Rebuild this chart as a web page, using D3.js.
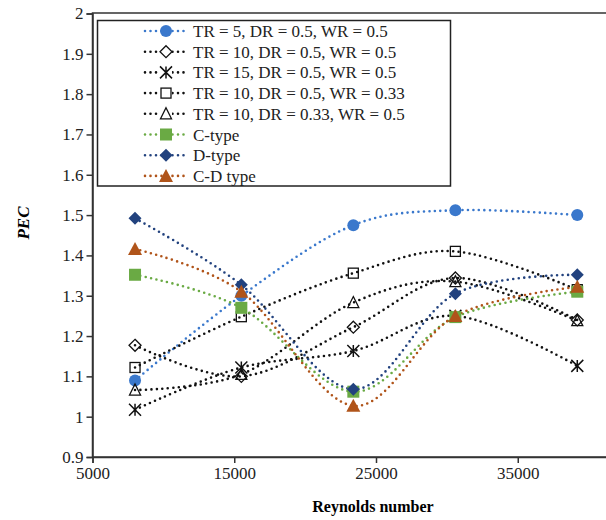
<!DOCTYPE html>
<html><head><meta charset="utf-8">
<script src="https://cdn.jsdelivr.net/npm/d3@7"></script>
<style>body{margin:0;background:#fff;}svg{display:block;}</style>
</head><body>
<svg id="c" width="606" height="520"></svg>
<script>
const reynolds = [8000, 15500, 23400, 30600, 39200];
const seriesNames = ["TR = 5, DR = 0.5, WR = 0.5","TR = 10, DR = 0.5, WR = 0.5","TR = 15, DR = 0.5, WR = 0.5","TR = 10, DR = 0.5, WR = 0.33","TR = 10, DR = 0.33, WR = 0.5","C-type","D-type","C-D type"];
const tr5 = [1.09, 1.30, 1.475, 1.512, 1.50];
const tr10 = [1.177, 1.10, 1.222, 1.344, 1.24];
const tr15 = [1.017, 1.122, 1.163, 1.25, 1.126];
const wr033 = [1.122, 1.248, 1.356, 1.41, 1.315];
const dr033 = [1.066, 1.105, 1.283, 1.335, 1.238];
const cType = [1.352, 1.27, 1.062, 1.247, 1.31];
const dType = [1.492, 1.327, 1.068, 1.305, 1.352];
const cdType = [1.416, 1.31, 1.027, 1.25, 1.322];
const xTicks = [5000, 15000, 25000, 35000];
const yTicks = [0.9, 1, 1.1, 1.2, 1.3, 1.4, 1.5, 1.6, 1.7, 1.8, 1.9, 2];
const yTickLabels = ["0.9","1","1.1","1.2","1.3","1.4","1.5","1.6","1.7","1.8","1.9","2"];

const colors = ["#3a78cc","#111","#111","#111","#111","#6aaa44","#22427e","#b0541a"];
const markers = ["circle","diamondOpen","asterisk","squareOpen","triangleOpen","square","diamond","triangle"];
const allValues = [tr5, tr10, tr15, wr033, dr033, cType, dType, cdType];

const svg = d3.select("#c");
const font = "'Liberation Serif','Times New Roman',serif";
const x = d3.scaleLinear().domain([5000, 45000]).range([92.5, 659.5]);
const y = d3.scaleLinear().domain([0.9, 2]).range([457, 13.5]);

// plot frame
svg.append("rect").attr("x", 92.5).attr("y", 13).attr("width", 600).attr("height", 444)
  .attr("fill", "none").attr("stroke", "#333").attr("stroke-width", 1.5);

// axes
const yAxis = d3.axisLeft(y).tickValues(yTicks).tickSize(6).tickFormat((d,i)=>yTickLabels[i]);
const gy = svg.append("g").attr("transform","translate(92.5,0)").call(yAxis);
const xAxis = d3.axisBottom(x).tickValues(xTicks).tickSize(6).tickFormat(d3.format("d"));
const gx = svg.append("g").attr("transform","translate(0,457)").call(xAxis);
[gx, gy].forEach(g=>{
  g.select(".domain").attr("stroke","#333").attr("stroke-width",1.5);
  g.selectAll(".tick line").attr("stroke","#333").attr("stroke-width",1.5);
  g.selectAll(".tick text").attr("font-family",font).attr("font-size",17).attr("fill","#222");
});
gy.selectAll(".tick text").attr("x",-9);
gx.selectAll(".tick text").attr("y",10);

// axis titles
svg.append("text").attr("x",373).attr("y",512).attr("text-anchor","middle")
  .attr("font-family",font).attr("font-size",16).attr("font-weight","bold").text("Reynolds number");
svg.append("text").attr("transform","translate(29,223) rotate(-90)").attr("text-anchor","middle")
  .attr("font-family",font).attr("font-size",17).attr("font-weight","bold").attr("font-style","italic").text("PEC");

function drawMarker(g, type, color, cx, cy) {
  if (type==="circle") g.append("circle").attr("cx",cx).attr("cy",cy).attr("r",6).attr("fill",color);
  else if (type==="square") g.append("rect").attr("x",cx-6).attr("y",cy-6).attr("width",12).attr("height",12).attr("fill",color);
  else if (type==="squareOpen") g.append("rect").attr("x",cx-5).attr("y",cy-5).attr("width",10).attr("height",10).attr("fill","none").attr("stroke",color).attr("stroke-width",1.3);
  else if (type==="diamond") g.append("path").attr("d",`M${cx},${cy-6.5}L${cx+6.5},${cy}L${cx},${cy+6.5}L${cx-6.5},${cy}Z`).attr("fill",color);
  else if (type==="diamondOpen") g.append("path").attr("d",`M${cx},${cy-6}L${cx+6},${cy}L${cx},${cy+6}L${cx-6},${cy}Z`).attr("fill","none").attr("stroke",color).attr("stroke-width",1.3);
  else if (type==="triangle") g.append("path").attr("d",`M${cx},${cy-7}L${cx+7},${cy+6}L${cx-7},${cy+6}Z`).attr("fill",color);
  else if (type==="triangleOpen") g.append("path").attr("d",`M${cx},${cy-6}L${cx+5.5},${cy+5}L${cx-5.5},${cy+5}Z`).attr("fill","none").attr("stroke",color).attr("stroke-width",1.3);
  else if (type==="asterisk") {
    const r=6;
    g.append("path").attr("d",`M${cx-r},${cy-r}L${cx+r},${cy+r}M${cx-r},${cy+r}L${cx+r},${cy-r}M${cx},${cy-r}L${cx},${cy+r}`)
      .attr("stroke",color).attr("stroke-width",1.5).attr("fill","none");
  }
}

const line = d3.line().x((d,i)=>x(reynolds[i])).y(d=>y(d)).curve(d3.curveCardinal.tension(0));
const plot = svg.append("g");
allValues.forEach((vals,k)=>{
  plot.append("path").attr("d", line(vals)).attr("fill","none").attr("stroke",colors[k])
    .attr("stroke-width",2.6).attr("stroke-linecap","round").attr("stroke-dasharray","0 5.5");
});
allValues.forEach((vals,k)=>{
  vals.forEach((v,i)=>drawMarker(plot, markers[k], colors[k], x(reynolds[i]), y(v)));
});

// legend
const lg = svg.append("g");
lg.append("rect").attr("x",97.5).attr("y",20.5).attr("width",353).attr("height",165.5)
  .attr("fill","#fff").attr("stroke","#222").attr("stroke-width",1.5);
seriesNames.forEach((name,k)=>{
  const yy = 31 + k*20.7;
  lg.append("line").attr("x1",145).attr("x2",184).attr("y1",yy).attr("y2",yy)
    .attr("stroke",colors[k]).attr("stroke-width",2.6).attr("stroke-linecap","round").attr("stroke-dasharray","0 5.5");
  if (markers[k].endsWith("Open") || markers[k]==="asterisk")
    lg.append("rect").attr("x",160).attr("y",yy-6).attr("width",12).attr("height",12).attr("fill","#fff");
  drawMarker(lg, markers[k], colors[k], 166, yy);
  lg.append("text").attr("x",193).attr("y",yy+6).attr("font-family",font).attr("font-size",17)
    .attr("fill","#222").text(name);
});
</script>
</body></html>
